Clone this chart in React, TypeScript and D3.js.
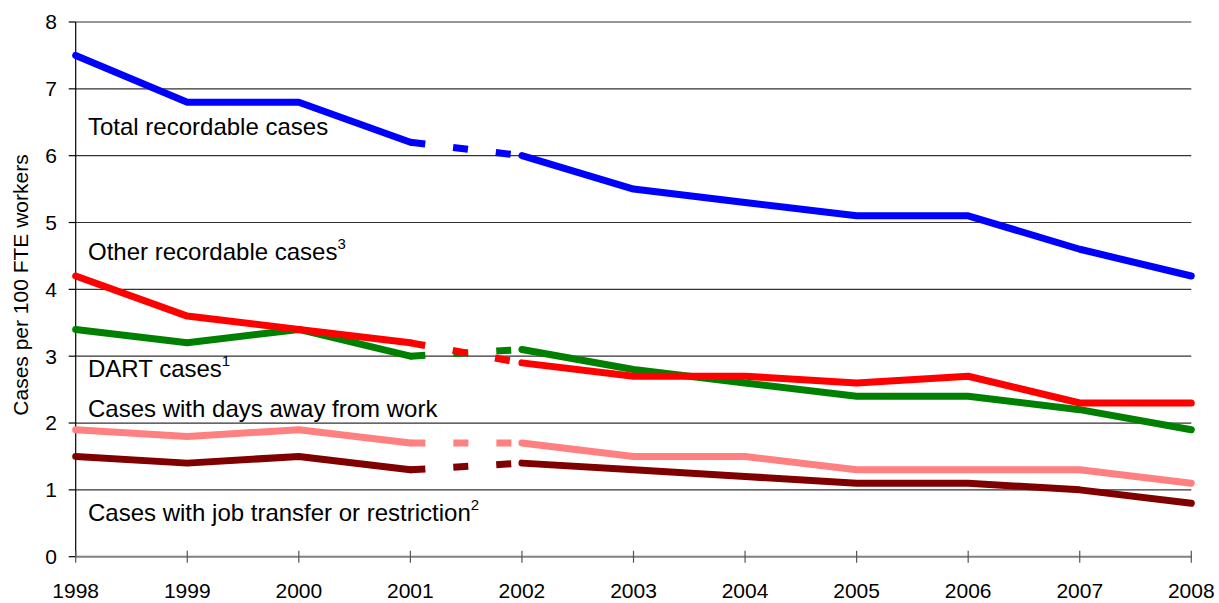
import React from "react";
import * as d3 from "d3";

// Injury and illness incidence rates, cases per 100 full-time workers
const years = [1998, 1999, 2000, 2001, 2002, 2003, 2004, 2005, 2006, 2007, 2008];
const totalRecordable = [7.5, 6.8, 6.8, 6.2, 6.0, 5.5, 5.3, 5.1, 5.1, 4.6, 4.2];
const otherRecordable = [4.2, 3.6, 3.4, 3.2, 2.9, 2.7, 2.7, 2.6, 2.7, 2.3, 2.3];
const dartCases = [3.4, 3.2, 3.4, 3.0, 3.1, 2.8, 2.6, 2.4, 2.4, 2.2, 1.9];
const daysAway = [1.9, 1.8, 1.9, 1.7, 1.7, 1.5, 1.5, 1.3, 1.3, 1.3, 1.1];
const jobTransfer = [1.5, 1.4, 1.5, 1.3, 1.4, 1.3, 1.2, 1.1, 1.1, 1.0, 0.8];
const yTicks = [0, 1, 2, 3, 4, 5, 6, 7, 8];

// The 2001–2002 step marks a break in the series and is drawn dashed
const breakStart = 2001;
const breakEnd = 2002;

const W = 1219;
const H = 603;
const FONT = "Liberation Sans, Arial, sans-serif";

const x = d3.scaleLinear().domain([1998, 2008]).range([75.7, 1191.3]);
const y = d3.scaleLinear().domain([0, 8]).range([556.7, 22]);

type Series = { values: number[]; color: string };

const series: Series[] = [
  { values: totalRecordable, color: "#0000FF" },
  { values: dartCases, color: "#008000" },
  { values: otherRecordable, color: "#FF0000" },
  { values: daysAway, color: "#FF8080" },
  { values: jobTransfer, color: "#800000" },
];

const line = d3
  .line<[number, number]>()
  .x((d) => x(d[0]))
  .y((d) => y(d[1]));

function pairs(values: number[], from: number, to: number): [number, number][] {
  return years
    .map((yr, i) => [yr, values[i]] as [number, number])
    .filter((p) => p[0] >= from && p[0] <= to);
}

export default function App() {
  const lw = 7;
  return (
    <svg
      width={W}
      height={H}
      style={{ position: "absolute", left: 0, top: 0, background: "#fff" }}
      fontFamily={FONT}
    >
      {/* horizontal gridlines */}
      {yTicks.slice(1).map((t) => (
        <line
          key={"g" + t}
          x1={x(1998)}
          x2={x(2008)}
          y1={y(t)}
          y2={y(t)}
          stroke="#333"
          strokeWidth={1.2}
        />
      ))}
      {/* y axis */}
      <line x1={x(1998)} x2={x(1998)} y1={y(8)} y2={y(0)} stroke="#000" strokeWidth={1.2} />
      {yTicks.map((t) => (
        <g key={"yt" + t}>
          <line x1={x(1998) - 7} x2={x(1998)} y1={y(t)} y2={y(t)} stroke="#000" strokeWidth={1.2} />
          <text
            x={57}
            y={y(t)}
            dy="0.35em"
            textAnchor="end"
            fontSize={21}
            fill="#000"
          >
            {t}
          </text>
        </g>
      ))}
      {/* x axis */}
      <line x1={x(1998)} x2={x(2008)} y1={y(0)} y2={y(0)} stroke="#808080" strokeWidth={2} />
      {years.map((yr) => (
        <g key={"xt" + yr}>
          <line x1={x(yr)} x2={x(yr)} y1={y(0) - 6} y2={y(0) + 6} stroke="#555" strokeWidth={1.2} />
          <text x={x(yr)} y={598} textAnchor="middle" fontSize={21} fill="#000">
            {yr}
          </text>
        </g>
      ))}
      {/* y axis title */}
      <text
        transform={`translate(28,${285}) rotate(-90)`}
        textAnchor="middle"
        fontSize={21}
        fill="#000"
      >
        Cases per 100 FTE workers
      </text>

      {/* series lines */}
      {series.map((s, i) => (
        <g key={"s" + i}>
          <path
            d={line(pairs(s.values, 1998, breakStart)) || ""}
            fill="none"
            stroke={s.color}
            strokeWidth={lw}
            strokeLinejoin="round"
            strokeLinecap="round"
          />
          <path
            d={line(pairs(s.values, breakStart, breakEnd)) || ""}
            fill="none"
            stroke={s.color}
            strokeWidth={lw}
            strokeDasharray="15 28"
          />
          <path
            d={line(pairs(s.values, breakEnd, 2008)) || ""}
            fill="none"
            stroke={s.color}
            strokeWidth={lw}
            strokeLinejoin="round"
            strokeLinecap="round"
          />
        </g>
      ))}

      {/* series labels */}
      <g fontSize={24} fill="#000">
        <text x={88} y={135}>Total recordable cases</text>
        <text x={88} y={260}>
          Other recordable cases
          <tspan fontSize={15} dy={-11}>3</tspan>
        </text>
        <text x={88} y={377}>
          DART cases
          <tspan fontSize={15} dy={-11}>1</tspan>
        </text>
        <text x={88} y={417}>Cases with days away from work</text>
        <text x={88} y={521}>
          Cases with job transfer or restriction
          <tspan fontSize={15} dy={-11}>2</tspan>
        </text>
      </g>
    </svg>
  );
}
